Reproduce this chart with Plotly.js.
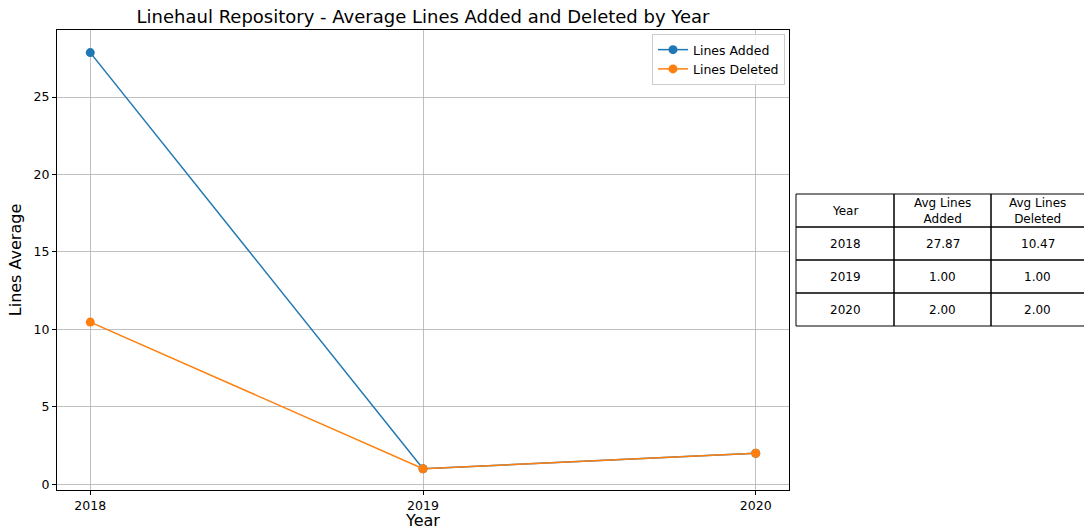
<!DOCTYPE html>
<html>
<head>
<meta charset="utf-8">
<script src="https://cdn.plot.ly/plotly-3.0.1.min.js"></script>
<style>html,body{margin:0;padding:0;background:#fff;}#chart{width:1084px;height:530px;}</style>
</head>
<body>
<div id="chart"></div>
<script>
const years = [2018, 2019, 2020];
const linesAdded = [27.87, 1.00, 2.00];
const linesDeleted = [10.47, 1.00, 2.00];
const tableHeader = ["Year", "Avg Lines<br>Added", "Avg Lines<br>Deleted"];

const font = "DejaVu Sans, sans-serif";

// plot area in pixels
const PL = 57, PR = 789, PT = 30, PB = 490;
const px2x = p => (p - PL) / (PR - PL);
const px2y = p => (PB - p) / (PB - PT);

// table geometry (pixels)
const colEdges = [796, 894, 991, 1092];
const rowEdges = [194, 227, 260, 293, 326];

const rows = [tableHeader].concat(years.map((y, i) => [String(y), linesAdded[i].toFixed(2), linesDeleted[i].toFixed(2)]));

const shapes = [];
const annotations = [];
rows.forEach((r, ri) => {
  r.forEach((txt, ci) => {
    shapes.push({type: "rect", xref: "paper", yref: "paper",
      x0: px2x(colEdges[ci]), x1: px2x(colEdges[ci + 1]),
      y0: px2y(rowEdges[ri + 1]), y1: px2y(rowEdges[ri]),
      line: {color: "#000", width: 1}, fillcolor: "rgba(0,0,0,0)"});
    annotations.push({xref: "paper", yref: "paper",
      x: px2x((colEdges[ci] + Math.min(colEdges[ci + 1], 1088)) / 2 - (ci === 2 ? 2 : 0)),
      y: px2y((rowEdges[ri] + rowEdges[ri + 1]) / 2),
      text: txt, showarrow: false, xanchor: "center", yanchor: "middle",
      font: {family: font, size: 12, color: "#000"}});
  });
});

const traces = [
  {x: years, y: linesAdded, mode: "lines+markers", name: "Lines Added",
   line: {color: "#1f77b4", width: 1.5}, marker: {color: "#1f77b4", size: 9}},
  {x: years, y: linesDeleted, mode: "lines+markers", name: "Lines Deleted",
   line: {color: "#ff7f0e", width: 1.5}, marker: {color: "#ff7f0e", size: 9}}
];

const layout = {
  width: 1084, height: 530,
  margin: {l: PL, r: 1084 - PR, t: PT, b: 530 - PB},
  paper_bgcolor: "#fff", plot_bgcolor: "#fff",
  font: {family: font, size: 13, color: "#000"},
  title: {text: "Linehaul Repository - Average Lines Added and Deleted by Year",
          font: {family: font, size: 18, color: "#000"},
          x: 0.5, xref: "paper", xanchor: "center",
          y: 1 - 17/530, yref: "container", yanchor: "middle"},
  xaxis: {range: [2017.9, 2020.1],
          tickvals: years, ticktext: years.map(String),
          showgrid: true, gridcolor: "#b0b0b0", gridwidth: 0.8,
          zeroline: false, showline: true, linecolor: "#000", linewidth: 1, mirror: true,
          ticks: "outside", ticklen: 4, tickcolor: "#000",
          tickfont: {family: font, size: 12.5},
          title: {text: "Year", font: {family: font, size: 16}, standoff: 7}},
  yaxis: {range: [-0.37, 29.33], tickvals: [0, 5, 10, 15, 20, 25],
          showgrid: true, gridcolor: "#b0b0b0", gridwidth: 0.8,
          zeroline: false, showline: true, linecolor: "#000", linewidth: 1, mirror: true,
          ticks: "outside", ticklen: 4, tickcolor: "#000",
          tickfont: {family: font, size: 12.5},
          title: {text: "Lines Average", font: {family: font, size: 16}, standoff: 7}},
  legend: {x: px2x(785), xanchor: "right", y: px2y(34), yanchor: "top",
           bgcolor: "rgba(255,255,255,0.8)", bordercolor: "#cccccc", borderwidth: 1,
           font: {family: font, size: 12.5}},
  showlegend: true,
  shapes: shapes,
  annotations: annotations
};

Plotly.newPlot("chart", traces, layout, {displayModeBar: false, staticPlot: true});
</script>
</body>
</html>
